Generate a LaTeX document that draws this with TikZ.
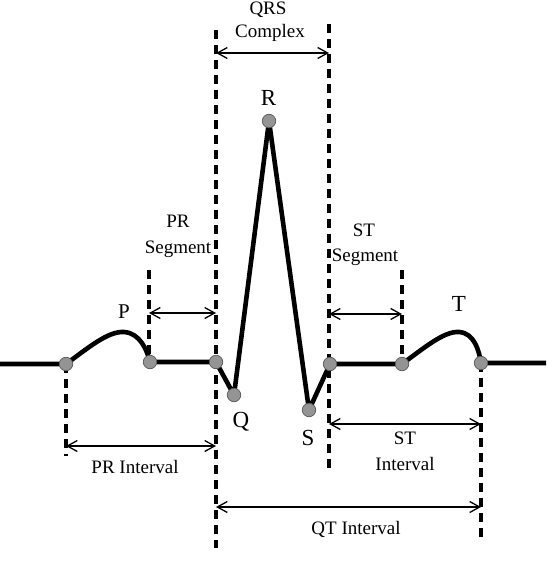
\documentclass[tikz,border=0pt]{standalone}
\usepackage{fontspec}
\setmainfont{Liberation Serif}
\usetikzlibrary{arrows.meta}
\begin{document}
\begin{tikzpicture}[x=1pt,y=-1pt,
 wave/.style={line width=4.6pt, line join=round, line cap=round},
 guide/.style={line width=3.2pt, dash pattern=on 9pt off 6pt},
 dim/.style={line width=1.3pt, {Straight Barb[length=10pt,width=11pt]}-{Straight Barb[length=10pt,width=11pt]}},
 dot/.style={circle, fill=black!42, draw=black!65, line width=0.7pt, minimum size=13.5pt, inner sep=0pt},
 lbl/.style={font=\fontsize{19}{22}\selectfont, anchor=base, inner sep=0pt},
 wlbl/.style={font=\fontsize{23}{26}\selectfont, anchor=base, inner sep=0pt}]
\clip (0,0) rectangle (546,580);
% guide line end points
\coordinate (g1a) at (66,364);  \coordinate (g1b) at (66,456);
\coordinate (g2a) at (149,270); \coordinate (g2b) at (149,362);
\coordinate (g3a) at (216,30);  \coordinate (g3b) at (216,548);
\coordinate (g4a) at (329,24);  \coordinate (g4b) at (329,472);
\coordinate (g5a) at (402,270); \coordinate (g5b) at (402,364);
\coordinate (g6a) at (481,363); \coordinate (g6b) at (481,541);
\foreach \g in {1,...,6} {\draw[guide] (g\g a) -- (g\g b);}
% dimension arrows
\coordinate (qrsL) at (216,53);  \coordinate (qrsR) at (329,53);
\coordinate (prsL) at (149,313); \coordinate (prsR) at (216,313);
\coordinate (stsL) at (329,314); \coordinate (stsR) at (402,314);
\coordinate (priL) at (66,446);  \coordinate (priR) at (216,446);
\coordinate (stiL) at (329,424); \coordinate (stiR) at (481,424);
\coordinate (qtL) at (216,507);  \coordinate (qtR) at (481,507);
\draw[dim] (qrsL) -- (qrsR);
\draw[dim] (prsL) -- (prsR);
\draw[dim] (stsL) -- (stsR);
\draw[dim] (priL) -- (priR);
\draw[dim] (stiL) -- (stiR);
\draw[dim] (qtL) -- (qtR);
% wave end points
\coordinate (left) at (0,364);
\coordinate (right) at (546,363);
\coordinate (pA) at (66,364);
\coordinate (pB) at (150,362);
\coordinate (qA) at (216,362);
\coordinate (qQ) at (234,395);
\coordinate (rR) at (269,121);
\coordinate (sS) at (309,410);
\coordinate (jJ) at (330,364);
\coordinate (tA) at (402,364);
\coordinate (tB) at (481,363);
\draw[wave] (left) -- (pA)
  .. controls (88,348) and (108,331) .. (124,332)
  .. controls (140,333) and (147,350) .. (pB)
  -- (qA) -- (qQ) -- (rR) -- (sS) -- (jJ) -- (tA)
  .. controls (424,348) and (444,331) .. (459,332)
  .. controls (474,333) and (479,350) .. (tB) -- (right);
% dots on the wave
\foreach \c in {pA,pB,qA,qQ,rR,sS,jJ,tA,tB}
  {\node[dot] (d\c) at (\c) {};}
% labels
\node[lbl] (t1) at (268,15) {QRS};
\node[lbl] (t2) at (270,38) {Complex};
\node[lbl] (t3) at (178,227) {PR};
\node[lbl] (t4) at (178,253) {Segment};
\node[lbl] (t5) at (364,236) {ST};
\node[lbl] (t6) at (365,261) {Segment};
\node[lbl] (t7) at (135,473) {PR Interval};
\node[lbl] (t8) at (405,444) {ST};
\node[lbl] (t9) at (405,470) {Interval};
\node[lbl] (t10) at (356,534) {QT Interval};
\node[wlbl,font=\fontsize{21}{24}\selectfont] (lP) at (124,318) {P};
\node[wlbl] (lT) at (459,311) {T};
\node[wlbl] (lR) at (268.5,106) {R};
\node[wlbl] (lQ) at (241,427) {Q};
\node[wlbl] (lS) at (308,445) {S};
\node[font=\fontsize{28}{32}\selectfont, anchor=base, inner sep=0pt, text=black!70] (cap) at (275,601) {Fig. 1: Typical ECG Signal};
\end{tikzpicture}
\end{document}
